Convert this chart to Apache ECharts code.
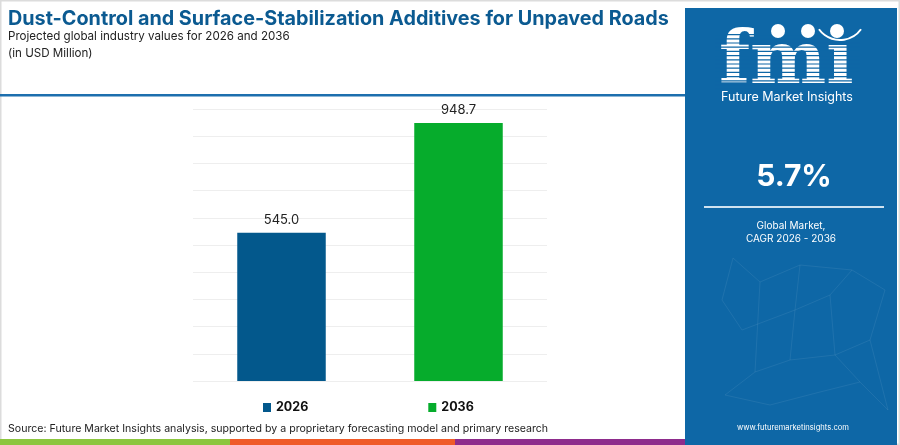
<!DOCTYPE html>
<html>
<head>
<meta charset="utf-8">
<script src="https://cdn.jsdelivr.net/npm/echarts@6/dist/echarts.min.js"></script>
<style>
  html, body { margin: 0; padding: 0; background: #fff; }
  #chart { width: 900px; height: 445px; }
</style>
</head>
<body>
<div id="chart"></div>
<script>
const categories = ['2026', '2036']
const values2026 = [545.0, null]
const values2036 = [null, 948.7]
const cagr = '5.7%'

const font = 'Inter, "Noto Sans", sans-serif'
const panelColor = '#0e67a6'

const chart = echarts.init(document.getElementById('chart'))

// faint network lines in the side panel
const netPoints = [
  [733, 258], [722, 300], [742, 330], [760, 282], [800, 265], [795, 310],
  [830, 295], [852, 270], [885, 290], [870, 340], [835, 355], [790, 360],
  [755, 372], [725, 395], [770, 405], [820, 392], [860, 382], [888, 410]
]
const netLinks = [
  [0, 1], [1, 2], [0, 3], [3, 4], [4, 5], [5, 6], [6, 7], [7, 8], [8, 9],
  [9, 10], [10, 11], [11, 12], [12, 13], [13, 14], [14, 15], [15, 16],
  [16, 17], [2, 5], [5, 11], [6, 10], [3, 12], [10, 16], [9, 17], [4, 7]
]
const netGraphics = netLinks.map(([a, b]) => ({
  type: 'line',
  shape: { x1: netPoints[a][0], y1: netPoints[a][1], x2: netPoints[b][0], y2: netPoints[b][1] },
  style: { stroke: 'rgba(255,255,255,0.07)', lineWidth: 1 },
  silent: true
}))

// stripes across the logo letters
const stripes = []
for (let y = 34; y < 90; y += 4.2) {
  stripes.push({
    type: 'rect',
    shape: { x: 715, y: y, width: 145, height: 1.2 },
    style: { fill: panelColor },
    silent: true
  })
}

const labelStyle = {
  show: true, position: 'top', distance: 6,
  fontFamily: font, fontSize: 13, color: '#222',
  formatter: p => p.value.toFixed(1)
}

const option = {
  animation: false,
  grid: { left: 193, right: 353, top: 109, bottom: 64 },
  legend: {
    data: categories,
    left: 258,
    top: 396,
    icon: 'rect',
    itemWidth: 8,
    itemHeight: 9,
    itemGap: 120,
    textStyle: { fontFamily: font, fontSize: 12.5, fontWeight: 'bold', color: '#111' }
  },
  xAxis: {
    type: 'category',
    data: categories,
    axisLine: { show: false },
    axisTick: { show: false },
    axisLabel: { show: false }
  },
  yAxis: {
    type: 'value',
    min: 0,
    max: 1000,
    interval: 100,
    axisLabel: { show: false },
    axisLine: { show: false },
    axisTick: { show: false },
    splitLine: { lineStyle: { color: '#eeeeee', width: 1 } }
  },
  series: [
    {
      name: '2026',
      type: 'bar',
      stack: 'total',
      barWidth: '50%',
      data: values2026,
      itemStyle: { color: '#03588c' },
      label: labelStyle
    },
    {
      name: '2036',
      type: 'bar',
      stack: 'total',
      barWidth: '50%',
      data: values2036,
      itemStyle: { color: '#06ac2c' },
      label: labelStyle
    }
  ],
  graphic: [
    // outer border
    { type: 'rect', shape: { x: 0, y: 0, width: 900, height: 445 }, style: { fill: 'none', stroke: '#dcdcdc', lineWidth: 3 }, silent: true },
    // title block
    { type: 'text', left: 8, top: 9, style: { text: 'Dust-Control and Surface-Stabilization Additives for Unpaved Roads', font: 'bold 19.8px ' + font, fill: '#0b5a91' } },
    { type: 'text', left: 8, top: 31, style: { text: 'Projected global industry values for 2026 and 2036', font: '11.6px ' + font, fill: '#222' } },
    { type: 'text', left: 8, top: 48, style: { text: '(in USD Million)', font: '11.6px ' + font, fill: '#222' } },
    { type: 'rect', shape: { x: 0, y: 94, width: 686, height: 2.5 }, style: { fill: '#1d6fae' }, silent: true },
    // side panel
    { type: 'rect', shape: { x: 685, y: 8, width: 212, height: 437 }, style: { fill: panelColor }, silent: true },
    ...netGraphics,
    { type: 'text', x: 719, y: 64, style: { text: 'fm\u0131', font: 'bold 72px "DejaVu Serif"', fill: '#fff', verticalAlign: 'middle' }, silent: true },
    ...stripes,
    { type: 'circle', shape: { cx: 778, cy: 31, r: 7 }, style: { fill: '#fff' }, silent: true },
    { type: 'circle', shape: { cx: 808, cy: 31, r: 7 }, style: { fill: '#fff' }, silent: true },
    { type: 'circle', shape: { cx: 837, cy: 31, r: 7 }, style: { fill: '#fff' }, silent: true },
    { type: 'arc', shape: { cx: 840, cy: 14, r: 26, startAngle: Math.PI * 0.2, endAngle: Math.PI * 0.8 }, style: { stroke: '#fff', lineWidth: 2, fill: 'none' }, silent: true },
    { type: 'text', x: 787, y: 97, style: { text: 'Future Market Insights', font: '12.5px ' + font, fill: '#fff', align: 'center', verticalAlign: 'middle' } },
    { type: 'text', x: 794, y: 177, style: { text: cagr, font: 'bold 30px ' + font, fill: '#fff', align: 'center', verticalAlign: 'middle' } },
    { type: 'rect', shape: { x: 704, y: 206, width: 180, height: 2 }, style: { fill: '#cfe2f0' }, silent: true },
    { type: 'text', x: 791, y: 226, style: { text: 'Global Market,', font: '10px ' + font, fill: '#fff', align: 'center', verticalAlign: 'middle' } },
    { type: 'text', x: 791, y: 239, style: { text: 'CAGR 2026 - 2036', font: '10px ' + font, fill: '#fff', align: 'center', verticalAlign: 'middle' } },
    { type: 'text', x: 793, y: 428, style: { text: 'www.futuremarketinsights.com', font: '7.6px ' + font, fill: '#fff', align: 'center', verticalAlign: 'middle' } },
    // source line
    { type: 'text', left: 8, top: 423, style: { text: 'Source: Future Market Insights analysis, supported by a proprietary forecasting model and primary research', font: '10.6px ' + font, fill: '#222' } },
    // bottom stripe
    { type: 'rect', shape: { x: 0, y: 439, width: 230, height: 6 }, style: { fill: '#8cc63f' }, silent: true },
    { type: 'rect', shape: { x: 230, y: 439, width: 225, height: 6 }, style: { fill: '#ef5a28' }, silent: true },
    { type: 'rect', shape: { x: 455, y: 439, width: 230, height: 6 }, style: { fill: '#8e2c8c' }, silent: true }
  ]
}

chart.setOption(option)
</script>
</body>
</html>
